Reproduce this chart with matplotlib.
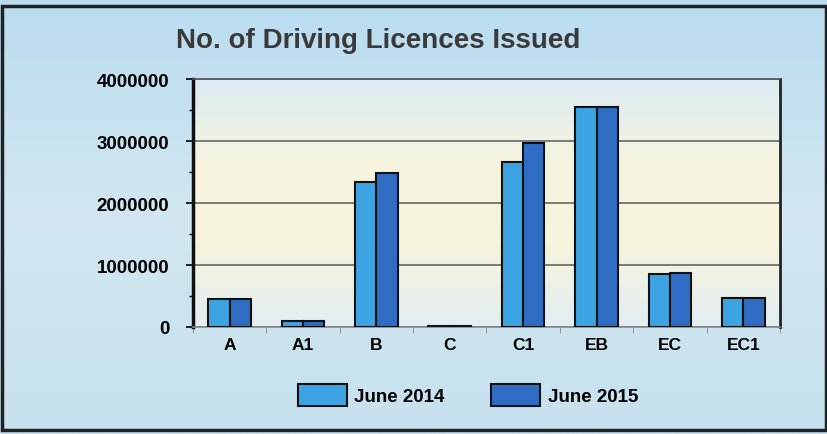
import numpy as np
import matplotlib.pyplot as plt
from matplotlib.colors import LinearSegmentedColormap
from matplotlib.patches import Rectangle

categories = ['A', 'A1', 'B', 'C', 'C1', 'EB', 'EC', 'EC1']
june_2014 = [450000, 100000, 2340000, 15000, 2660000, 3550000, 850000, 470000]
june_2015 = [450000, 100000, 2480000, 15000, 2970000, 3550000, 870000, 470000]
yticks = [0, 1000000, 2000000, 3000000, 4000000]

plt.rcParams['font.family'] = ['Liberation Sans', 'DejaVu Sans']

fig = plt.figure(figsize=(8.28, 4.35), dpi=100)

# outer background gradient
bg = fig.add_axes([0, 0, 1, 1], zorder=-10)
bg_cmap = LinearSegmentedColormap.from_list('bg', ['#b9dcef', '#d2e7f1', '#c6e1ef'])
bg.imshow(np.linspace(0, 1, 256).reshape(-1, 1), cmap=bg_cmap, aspect='auto',
          extent=[0, 1, 0, 1], origin='upper')
bg.add_patch(Rectangle((0.002, 0.01), 0.996, 0.975, fill=False, edgecolor='#222222',
                       linewidth=2.5, transform=bg.transAxes))
bg.set_xlim(0, 1)
bg.set_ylim(0, 1)
bg.axis('off')

ax = fig.add_axes([0.233, 0.246, 0.709, 0.57])
x = np.arange(len(categories))
w = 0.29

# plot area gradient
area_cmap = LinearSegmentedColormap.from_list('area', ['#dcebf2', '#f6f4e0', '#f7f4dc', '#e2eef3'])
ax.imshow(np.linspace(0, 1, 256).reshape(-1, 1), cmap=area_cmap, aspect='auto',
          extent=[-0.5, 7.5, 0, 4000000], origin='upper', zorder=0)

ax.bar(x - w / 2, june_2014, width=w, color='#3da4e3', edgecolor='#111111',
       linewidth=1.5, label='June 2014', zorder=3)
ax.bar(x + w / 2, june_2015, width=w, color='#2f6dc4', edgecolor='#111111',
       linewidth=1.5, label='June 2015', zorder=3)

ax.set_xlim(-0.5, 7.5)
ax.set_ylim(0, 4000000)
ax.set_yticks(yticks)
ax.set_yticklabels([str(v) for v in yticks], fontsize=13.5, fontweight='bold')
ax.set_yticks([500000, 1500000, 2500000, 3500000], minor=True)
ax.set_xticks(x)
ax.set_xticklabels(categories, fontsize=12.5, fontweight='bold')
ax.set_xticks(np.arange(-0.5, 8, 1), minor=True)
ax.tick_params(axis='x', which='major', length=0, pad=7)
ax.tick_params(axis='x', which='minor', length=4, color='#888888')
ax.tick_params(axis='y', which='major', length=5, width=1.2, pad=12)
ax.tick_params(axis='y', which='minor', length=3, width=1)

ax.grid(axis='y', color='#666666', linewidth=1.2, zorder=1)
ax.set_axisbelow(True)
ax.spines['left'].set_linewidth(2.5)
ax.spines['left'].set_color('#111111')
ax.spines['bottom'].set_color('#888888')
ax.spines['bottom'].set_linewidth(1.2)
ax.spines['top'].set_color('#555555')
ax.spines['top'].set_linewidth(1.2)
ax.spines['right'].set_color('#222222')
ax.spines['right'].set_linewidth(2)

fig.text(0.457, 0.905, 'No. of Driving Licences Issued', ha='center', va='center',
         fontsize=20, fontweight='bold', color='#3a3a3a')

fig.legend(loc='center', bbox_to_anchor=(0.565, 0.09), ncol=2, frameon=False,
           prop={'size': 13.5, 'weight': 'bold'}, handlelength=2.6, handleheight=1.4,
           columnspacing=2.5, handletextpad=0.4)

plt.savefig('out.png', dpi=100)
